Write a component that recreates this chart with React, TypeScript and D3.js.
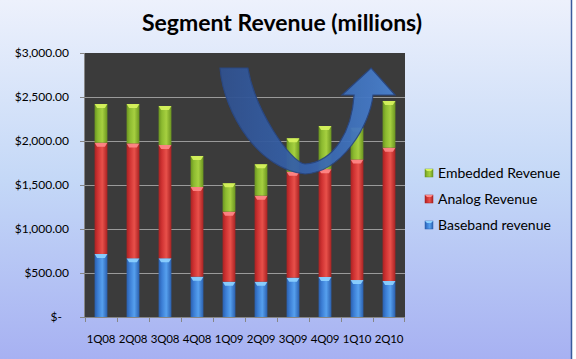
import React from "react";
import * as d3 from "d3";

const categories = ["1Q08", "2Q08", "3Q08", "4Q08", "1Q09", "2Q09", "3Q09", "4Q09", "1Q10", "2Q10"];
const baseband = [716, 667, 667, 458, 401, 401, 447, 455, 420, 409];
const analog = [1265, 1306, 1288, 1019, 796, 978, 1203, 1225, 1370, 1515];
const embedded = [439, 447, 443, 353, 322, 356, 380, 490, 360, 531];
const yTicks = [0, 500, 1000, 1500, 2000, 2500, 3000];
const seriesKeys = ["baseband", "analog", "embedded"];
const legendItems = [
  { key: "embedded", label: "Embedded Revenue" },
  { key: "analog", label: "Analog Revenue" },
  { key: "baseband", label: "Baseband revenue" },
];
const title = "Segment Revenue (millions)";

// curved trend arrow annotation in data space: [category offset from first center, value]
const arrowPath: [string, number[]][] = [
  ["M", [3.72, 2830]],
  ["C", [3.84, 2295, 4.97, 1670, 6.375, 1625]],
  ["C", [7.53, 1648, 8.41, 2182, 8.5, 2523]],
  ["L", [9.19, 2523]],
  ["L", [8.44, 2830]],
  ["L", [7.53, 2523]],
  ["L", [7.91, 2523]],
  ["C", [7.84, 2125, 7.31, 1761, 6.375, 1739]],
  ["C", [5.91, 1761, 4.81, 2352, 4.59, 2830]],
];

const W = 576;
const H = 359;
const M = { left: 85, right: 171, top: 53, bottom: 42 };

const colors: Record<string, { dark: string; base: string; light: string; cap: string }> = {
  baseband: { dark: "#2a5fae", base: "#3b7dd4", light: "#56a0ee", cap: "#8fd3ff" },
  analog: { dark: "#a82222", base: "#cf3232", light: "#e8504a", cap: "#ff8a8a" },
  embedded: { dark: "#6a9420", base: "#8cba30", light: "#a6d040", cap: "#d8f45e" },
};

export default function App() {
  const x = d3
    .scaleBand<string>()
    .domain(categories)
    .range([M.left, W - M.right])
    .paddingInner(0.6)
    .paddingOuter(0.3);
  const y = d3.scaleLinear().domain([0, 3000]).range([H - M.bottom, M.top]);

  const rows = categories.map((c, i) => ({
    cat: c,
    baseband: baseband[i],
    analog: analog[i],
    embedded: embedded[i],
  }));
  const stacked = d3.stack<any>().keys(seriesKeys)(rows);

  const step = x.step();
  const c0 = (x(categories[0]) as number) + x.bandwidth() / 2;
  const ax = (c: number) => c0 + c * step;
  let d = "";
  arrowPath.forEach(([cmd, nums]) => {
    const pts: string[] = [];
    for (let i = 0; i < nums.length; i += 2) pts.push(`${ax(nums[i]).toFixed(1)},${y(nums[i + 1]).toFixed(1)}`);
    d += cmd + pts.join(" ");
  });
  d += "Z";

  const plotL = M.left;
  const plotR = W - M.right;
  const plotT = M.top;
  const plotB = H - M.bottom;
  const font = "Lato, 'Open Sans', sans-serif";

  const fmt = (v: number) => (v === 0 ? "$-" : "$" + d3.format(",.2f")(v));

  return (
    <svg width={W} height={H} style={{ position: "absolute", left: 0, top: 0, display: "block" }}>
      <defs>
        <linearGradient id="bg" x1="0" y1="0" x2="0" y2="1">
          <stop offset="0" stopColor="#edf1fc" />
          <stop offset="0.5" stopColor="#c4d8f7" />
          <stop offset="1" stopColor="#a7b1f2" />
        </linearGradient>
        <linearGradient id="arrowG" x1="0" y1="0" x2="1" y2="0">
          <stop offset="0" stopColor="#31528f" />
          <stop offset="0.5" stopColor="#3662ab" />
          <stop offset="1" stopColor="#4a82cf" />
        </linearGradient>
        {seriesKeys.map((k) => (
          <linearGradient key={k} id={"g-" + k} x1="0" y1="0" x2="1" y2="0">
            <stop offset="0" stopColor={colors[k].dark} />
            <stop offset="0.25" stopColor={colors[k].base} />
            <stop offset="0.6" stopColor={colors[k].light} />
            <stop offset="1" stopColor={colors[k].dark} />
          </linearGradient>
        ))}
      </defs>
      <rect x={0} y={0} width={571} height={H} fill="url(#bg)" />
      <line x1={571.5} x2={571.5} y1={0} y2={H} stroke="#3a5a9c" strokeWidth={1.5} />

      <text x={282} y={31} textAnchor="middle" fontFamily={font} fontWeight="bold" fontSize={23} fill="#000">
        {title}
      </text>

      <rect x={plotL} y={plotT} width={plotR - plotL} height={plotB - plotT} fill="#3b3b3b" />
      {yTicks.map((t) => (
        <g key={t}>
          {t > 0 && t < 3000 && (
            <line x1={plotL} x2={plotR} y1={y(t) + 0.5} y2={y(t) + 0.5} stroke="#9a9a9a" strokeWidth={1} />
          )}
          <line x1={plotL - 5} x2={plotL} y1={y(t) + 0.5} y2={y(t) + 0.5} stroke="#868686" />
          <text
            x={t === 0 ? 62 : 69}
            y={y(t) + 4}
            textAnchor="end"
            fontFamily={font}
            fontSize={12}
            fill="#000"
          >
            {fmt(t)}
          </text>
        </g>
      ))}
      <line x1={plotL - 0.5} x2={plotL - 0.5} y1={plotT} y2={plotB} stroke="#868686" />
      <line x1={plotL} x2={plotR} y1={plotB + 0.5} y2={plotB + 0.5} stroke="#868686" />
      {categories.map((c, i) => (
        <line
          key={"t" + c}
          x1={plotL + i * step + 0.5}
          x2={plotL + i * step + 0.5}
          y1={plotB}
          y2={plotB + 5}
          stroke="#868686"
        />
      ))}
      <line x1={plotR - 0.5} x2={plotR - 0.5} y1={plotB} y2={plotB + 5} stroke="#868686" />
      {categories.map((c) => (
        <text
          key={"l" + c}
          x={(x(c) as number) + x.bandwidth() / 2}
          y={343}
          textAnchor="middle"
          fontFamily={font}
          fontSize={11.5}
          letterSpacing={-0.2}
          fill="#000"
        >
          {c}
        </text>
      ))}

      {stacked.map((s) => (
        <g key={s.key}>
          {s.map((p: any) => {
            const bx = x(p.data.cat) as number;
            const bw = x.bandwidth();
            const yt = y(p[1]);
            const yb = y(p[0]);
            const col = colors[s.key];
            return (
              <g key={p.data.cat}>
                <rect x={bx} y={yt} width={bw} height={yb - yt} fill={`url(#g-${s.key})`} />
                <polygon
                  points={`${bx},${yt} ${bx + bw},${yt} ${bx + bw - 2.5},${yt + 4} ${bx + 2.5},${yt + 4}`}
                  fill={col.cap}
                  opacity={0.9}
                />
              </g>
            );
          })}
        </g>
      ))}

      <path d={d} fill="url(#arrowG)" stroke="#2a4884" strokeWidth={1.2} opacity={0.95} />

      {legendItems.map((it, i) => {
        const cy = 173 + i * 26;
        const col = colors[it.key];
        return (
          <g key={it.key}>
            <rect x={425} y={cy - 4} width={8} height={8} fill={`url(#g-${it.key})`} stroke={col.dark} strokeWidth={0.5} />
            <polygon points={`${425},${cy - 4} ${433},${cy - 4} ${431},${cy - 2} ${427},${cy - 2}`} fill={col.cap} />
            <text x={438} y={cy + 5} fontFamily={font} fontSize={14} fill="#000">
              {it.label}
            </text>
          </g>
        );
      })}
    </svg>
  );
}
